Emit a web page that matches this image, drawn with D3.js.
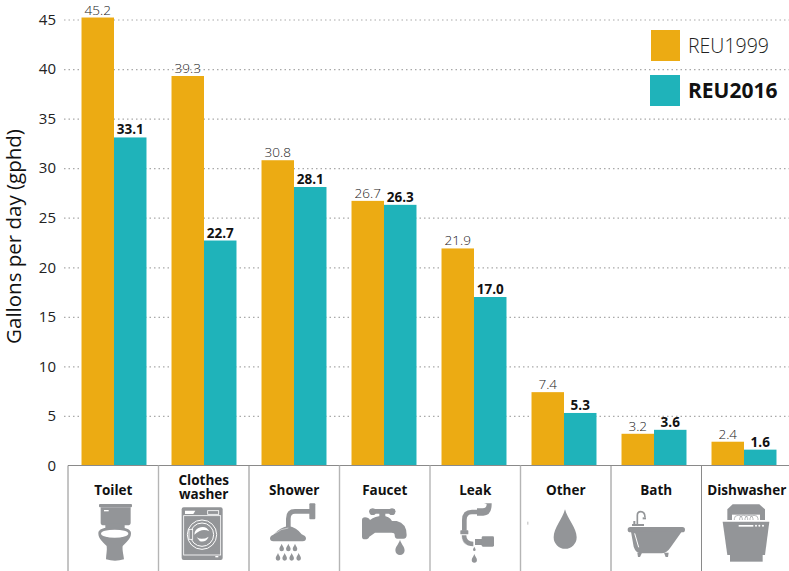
<!DOCTYPE html>
<html>
<head>
<meta charset="utf-8">
<script src="https://cdn.jsdelivr.net/npm/d3@7"></script>
<style>
  html, body { margin: 0; padding: 0; background: #fff; }
  svg { display: block; font-family: "Open Sans", sans-serif; }
</style>
</head>
<body>
<svg id="chart" width="789" height="571"></svg>
<script>
const categories = ['Toilet', 'Clothes washer', 'Shower', 'Faucet', 'Leak', 'Other', 'Bath', 'Dishwasher'];
const reu1999 = [45.2, 39.3, 30.8, 26.7, 21.9, 7.4, 3.2, 2.4];
const reu2016 = [33.1, 22.7, 28.1, 26.3, 17.0, 5.3, 3.6, 1.6];
const seriesNames = ['REU1999', 'REU2016'];
const yTicks = [0, 5, 10, 15, 20, 25, 30, 35, 40, 45];

const orange = '#ecab13';
const teal = '#1fb3ba';
const iconGray = '#939598';

const svg = d3.select('#chart');

const y = d3.scaleLinear().domain([0, 45]).range([465.5, 19.5]);
const x = d3.scaleBand().domain(categories).range([69, 789]).paddingInner(0.278).paddingOuter(0.139);
const xSeries = d3.scaleBand().domain(seriesNames).range([0, x.bandwidth()]);
const xCell = d3.scaleBand().domain(categories).range([68, 792]);

// gridlines
const grid = svg.append('g')
  .attr('transform', 'translate(64,0)')
  .call(d3.axisLeft(y).tickValues(yTicks.slice(1)).tickSize(-725).tickFormat(''));
grid.select('.domain').remove();
grid.selectAll('line')
  .attr('stroke', '#a9a9a9')
  .attr('stroke-width', 1.2)
  .attr('stroke-dasharray', '1.5 3');

// y axis labels
const yAxis = svg.append('g')
  .attr('transform', 'translate(56,0)')
  .call(d3.axisLeft(y).tickValues(yTicks).tickSize(0).tickPadding(0));
yAxis.select('.domain').remove();
yAxis.selectAll('text')
  .attr('font-family', '"Open Sans", sans-serif')
  .attr('font-size', 15)
  .attr('fill', '#222');

svg.append('text')
  .attr('transform', 'translate(21,236.5) rotate(-90)')
  .attr('text-anchor', 'middle')
  .attr('font-size', 20.5)
  .attr('fill', '#111')
  .text('Gallons per day (gphd)');

// bars
const rows = categories.map((c, i) => ({ c, a: reu1999[i], b: reu2016[i] }));

svg.append('g').selectAll('rect')
  .data(rows)
  .join('rect')
  .attr('x', d => x(d.c) + xSeries(seriesNames[0]))
  .attr('y', d => y(d.a))
  .attr('width', xSeries.bandwidth())
  .attr('height', d => y(0) - y(d.a))
  .attr('fill', orange);

svg.append('g').selectAll('rect')
  .data(rows)
  .join('rect')
  .attr('x', d => x(d.c) + xSeries(seriesNames[1]))
  .attr('y', d => y(d.b))
  .attr('width', xSeries.bandwidth())
  .attr('height', d => y(0) - y(d.b))
  .attr('fill', teal);

// value labels
svg.append('g').selectAll('text')
  .data(rows)
  .join('text')
  .attr('x', d => x(d.c) + xSeries(seriesNames[0]) + xSeries.bandwidth() / 2)
  .attr('y', d => y(d.a) - 3)
  .attr('text-anchor', 'middle')
  .attr('font-size', 13.5)
  .attr('font-weight', 300)
  .attr('fill', '#222')
  .text(d => d.a.toFixed(1));

svg.append('g').selectAll('text')
  .data(rows)
  .join('text')
  .attr('x', d => x(d.c) + xSeries(seriesNames[1]) + xSeries.bandwidth() / 2)
  .attr('y', d => y(d.b) - 3)
  .attr('text-anchor', 'middle')
  .attr('font-size', 13.5)
  .attr('font-weight', 700)
  .attr('fill', '#111')
  .text(d => d.b.toFixed(1));

// baseline and category cells
svg.append('line')
  .attr('x1', xCell(categories[0])).attr('x2', 789)
  .attr('y1', y(0)).attr('y2', y(0))
  .attr('stroke', '#8a8a8a').attr('stroke-width', 1.2);

svg.append('g').selectAll('line')
  .data(categories)
  .join('line')
  .attr('x1', d => xCell(d)).attr('x2', d => xCell(d))
  .attr('y1', y(0)).attr('y2', 571)
  .attr('stroke', (d, i) => [1, 3, 4, 5].includes(i) ? '#b5b5b5' : '#8a8a8a')
  .attr('stroke-width', (d, i) => [1, 3, 4, 5].includes(i) ? 1.4 : 1);

const catLabels = svg.append('g').selectAll('text')
  .data(categories)
  .join('text')
  .attr('text-anchor', 'middle')
  .attr('font-size', 13.5)
  .attr('font-weight', 700)
  .attr('fill', '#111')
  .attr('transform', d => `translate(${xCell(d) + xCell.bandwidth() / 2},0)`);

catLabels.each(function (d) {
  const words = d.split(' ');
  const baselines = words.length > 1 ? [485, 499] : [495];
  d3.select(this).selectAll('tspan')
    .data(words)
    .join('tspan')
    .attr('x', 0)
    .attr('y', (w, i) => baselines[i])
    .text(w => w);
});

// legend
const legend = svg.append('g');
legend.append('rect').attr('x', 651).attr('y', 30).attr('width', 29).attr('height', 31).attr('fill', orange);
legend.append('rect').attr('x', 650).attr('y', 75).attr('width', 30).attr('height', 31).attr('fill', teal);
legend.append('text').attr('x', 688).attr('y', 53)
  .attr('font-size', 19.5).attr('font-weight', 300).attr('fill', '#222').text(seriesNames[0]);
legend.append('text').attr('x', 688).attr('y', 98)
  .attr('font-size', 21).attr('font-weight', 700).attr('fill', '#111').text(seriesNames[1]);

// icons, drawn at 3x and scaled down
function drop(cx, top, h) {
  const w = h * 0.3;
  const r = w;
  return `M${cx},${top}C${cx - w * 0.3},${top + h * 0.3} ${cx - w},${top + h * 0.45} ${cx - w},${top + h - r}`
    + `A${r},${r} 0 0 0 ${cx + w},${top + h - r}`
    + `C${cx + w},${top + h * 0.45} ${cx + w * 0.3},${top + h * 0.3} ${cx},${top}Z`;
}

function iconGroup(ox) {
  return svg.append('g').attr('transform', `translate(${ox},440) scale(${1 / 3})`).attr('fill', iconGray);
}

// toilet
const toilet = iconGroup(0);
toilet.append('rect').attr('x', 297).attr('y', 192).attr('width', 99).attr('height', 10).attr('rx', 3);
toilet.append('path').attr('d', 'M302,202H392V248Q392,256 382,256H312Q302,256 302,248Z');
toilet.append('rect').attr('x', 312).attr('y', 210).attr('width', 14).attr('height', 4).attr('fill', '#fff');
toilet.append('rect').attr('x', 316).attr('y', 250).attr('width', 58).attr('height', 18);
toilet.append('path').attr('d', 'M295,280C295,268 310,262 344,262C378,262 393,268 393,280C393,296 380,306 368,318C366,330 372,350 372,358Q345,366 318,358C318,345 322,330 320,318C308,306 295,296 295,280Z');
toilet.append('ellipse').attr('cx', 344).attr('cy', 281).attr('rx', 41).attr('ry', 12).attr('fill', '#fff');

// washer
const washer = iconGroup(0);
washer.append('rect').attr('x', 545).attr('y', 202).attr('width', 123).attr('height', 158).attr('rx', 6);
washer.append('rect').attr('x', 551).attr('y', 227).attr('width', 111).attr('height', 118).attr('fill', 'none').attr('stroke', '#fff').attr('stroke-width', 2.5);
washer.append('path').attr('d', 'M555,212H586L580,222H555Z').attr('fill', '#fff');
washer.append('rect').attr('x', 623).attr('y', 212).attr('width', 33).attr('height', 11).attr('fill', 'none').attr('stroke', '#fff').attr('stroke-width', 2.5);
washer.append('circle').attr('cx', 606).attr('cy', 284).attr('r', 44).attr('fill', 'none').attr('stroke', '#fff').attr('stroke-width', 3);
washer.append('circle').attr('cx', 606).attr('cy', 284).attr('r', 35).attr('fill', 'none').attr('stroke', '#fff').attr('stroke-width', 3);
washer.append('rect').attr('x', 567).attr('y', 268).attr('width', 11).attr('height', 30).attr('fill', iconGray).attr('stroke', '#fff').attr('stroke-width', 2.5);
washer.append('path').attr('d', 'M583,284A24,24 0 0 1 628,274Q606,262 583,284Z').attr('fill', '#fff');
washer.append('path').attr('d', 'M590,292Q606,302 626,290Q618,308 600,304Z').attr('fill', '#fff');
washer.append('rect').attr('x', 646).attr('y', 348).attr('width', 9).attr('height', 4).attr('fill', '#fff');

// shower
const shower = iconGroup(260);
shower.append('rect').attr('x', 148).attr('y', 190).attr('width', 18).attr('height', 48).attr('rx', 3);
shower.append('path').attr('d', 'M150,214H105Q85,214 85,236V262').attr('fill', 'none').attr('stroke', iconGray).attr('stroke-width', 14);
shower.append('path').attr('d', 'M30,295Q30,288 42,283Q60,262 85,258Q110,262 125,283Q138,288 138,295Q138,304 128,304H40Q30,304 30,295Z');
shower.append('path').attr('d', 'M46,280Q62,266 85,264').attr('fill', 'none').attr('stroke', '#fff').attr('stroke-width', 1.5);
[[65, 311], [85, 311], [105, 311], [54, 339], [74, 339], [95, 339], [116, 339]].forEach(p => {
  shower.append('path').attr('d', drop(p[0], p[1], 23));
});

// faucet
const faucet = iconGroup(260);
faucet.append('rect').attr('x', 328).attr('y', 207).attr('width', 78).attr('height', 14).attr('rx', 7);
faucet.append('circle').attr('cx', 338).attr('cy', 215).attr('r', 10);
faucet.append('circle').attr('cx', 396).attr('cy', 215).attr('r', 10);
faucet.append('rect').attr('x', 358).attr('y', 215).attr('width', 18).attr('height', 24);
faucet.append('path').attr('d', 'M315,232Q326,232 330,240Q345,228 367,228Q388,228 396,243H410Q440,250 440,285Q440,296 430,296H412Q404,296 404,285Q404,278 395,278H345Q334,286 328,290Q325,298 315,298Q306,298 306,290V240Q306,232 315,232Z');
faucet.append('path').attr('d', drop(420, 299, 46));

// leak
const leak = iconGroup(260);
leak.append('path').attr('d', 'M652,216H636Q613,216 613,240V272').attr('fill', 'none').attr('stroke', iconGray).attr('stroke-width', 14);
leak.append('rect').attr('x', 601).attr('y', 271).attr('width', 24).attr('height', 12).attr('rx', 2);
leak.append('path').attr('d', 'M612,286Q612,312 640,312').attr('fill', 'none').attr('stroke', iconGray).attr('stroke-width', 14);
leak.append('path').attr('d', 'M604,286Q606,308 622,316').attr('fill', 'none').attr('stroke', '#fff').attr('stroke-width', 1.5);
leak.append('rect').attr('x', 645).attr('y', 297).attr('width', 22).attr('height', 18);
leak.append('rect').attr('x', 665).attr('y', 289).attr('width', 37).attr('height', 31).attr('rx', 4);
leak.append('path').attr('d', 'M651,205H668Q680,205 680,192L672,190H695Q696,226 670,227H651Z');
leak.append('path').attr('d', drop(643, 320, 13));
leak.append('path').attr('d', drop(643, 342, 26));

// other
const other = iconGroup(520);
other.append('path').attr('d', 'M135,208C128,235 101,265 101,292A34.5,34.5 0 0 0 170,292C170,265 142,235 135,208Z');
other.append('rect').attr('x', 22).attr('y', 245).attr('width', 3).attr('height', 9).attr('fill', '#bbb');

// bath
const bath = iconGroup(520);
bath.append('rect').attr('x', 323).attr('y', 261).attr('width', 172).attr('height', 16).attr('rx', 8);
bath.append('path').attr('d', 'M333,275H485L452,322Q440,340 425,340H365Q347,340 341,320Z');
bath.append('path').attr('d', 'M344,280L356,322').attr('stroke', '#fff').attr('stroke-width', 3).attr('fill', 'none');
bath.append('path').attr('d', 'M352,338H366L360,351H354Z');
bath.append('path').attr('d', 'M432,338H446L444,351H437Z');
bath.append('path').attr('d', 'M352,252V226Q352,215 362,215Q375,215 375,232').attr('fill', 'none').attr('stroke', iconGray).attr('stroke-width', 5);
bath.append('rect').attr('x', 336).attr('y', 252).attr('width', 36).attr('height', 6);
bath.append('rect').attr('x', 340).attr('y', 243).attr('width', 6).attr('height', 10);
bath.append('rect').attr('x', 368).attr('y', 232).attr('width', 10).attr('height', 6);

// dishwasher
const dish = iconGroup(520);
dish.append('path').attr('d', 'M622,240V208L638,193H718L735,208V240Z');
dish.append('rect').attr('x', 636).attr('y', 224).attr('width', 84).attr('height', 16).attr('fill', '#fff');
dish.append('g').selectAll('path')
  .data([655, 671, 687, 702])
  .join('path')
  .attr('d', d => `M${d - 12},240V236A12,10 0 0 1 ${d + 12},236V240`)
  .attr('fill', 'none')
  .attr('stroke', iconGray)
  .attr('stroke-width', 2);
dish.append('path').attr('d', 'M608,245H748L735,345H622Z');
dish.append('rect').attr('x', 656).attr('y', 255).attr('width', 44).attr('height', 5).attr('fill', '#fff');
dish.append('g').selectAll('circle')
  .data([708, 718, 729])
  .join('circle')
  .attr('cx', d => d).attr('cy', 257).attr('r', 3).attr('fill', '#fff');
dish.append('rect').attr('x', 630).attr('y', 345).attr('width', 98).attr('height', 20);
</script>
</body>
</html>
